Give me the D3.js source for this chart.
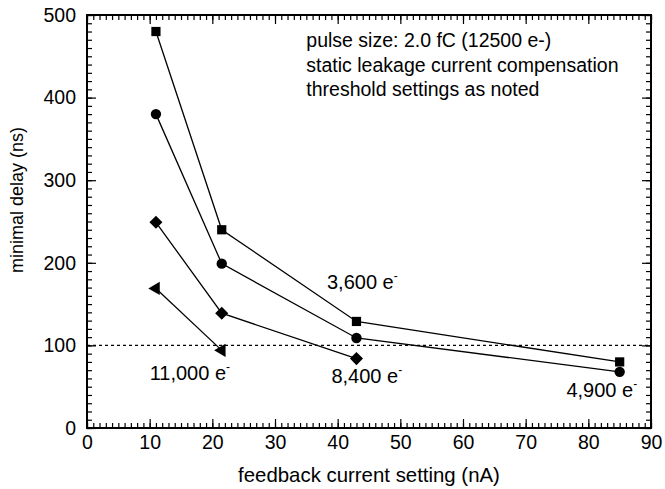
<!DOCTYPE html>
<html>
<head>
<meta charset="utf-8">
<script src="https://cdn.jsdelivr.net/npm/d3@7"></script>
<style>
  body { margin: 0; background: #fff; }
  svg { font-family: "Liberation Sans", Arial, sans-serif; }
</style>
</head>
<body>
<svg id="chart" width="665" height="489"></svg>
<script>
// feedback current (nA) and minimal delay (ns) per threshold setting
const xSquare = [11, 21.5, 43, 85]
const ySquare = [480, 240, 129, 80]
const xCircle = [11, 21.5, 43, 85]
const yCircle = [380, 199, 109, 68]
const xDiamond = [11, 21.5, 43]
const yDiamond = [249, 139, 84]
const xTriangle = [11, 21.5]
const yTriangle = [169, 94]

const xTicks = [0, 10, 20, 30, 40, 50, 60, 70, 80, 90]
const yTicks = [0, 100, 200, 300, 400, 500]
const refLine = 100

const notes = ['pulse size: 2.0 fC (12500 e-)', 'static leakage current compensation', 'threshold settings as noted']
const labelText = ['3,600 e', '11,000 e', '8,400 e', '4,900 e']
const labelX = [38.3, 10, 39, 76.5]
const labelY = [168, 58, 54.5, 37.5]

const W = 665, H = 489
const m = {left: 87, right: 14, top: 15, bottom: 61}
const iw = W - m.left - m.right
const ih = H - m.top - m.bottom

const svg = d3.select('#chart')
const g = svg.append('g').attr('transform', `translate(${m.left},${m.top})`)

const x = d3.scaleLinear().domain([0, 90]).range([0, iw])
const y = d3.scaleLinear().domain([0, 500]).range([ih, 0])

// minor ticks (inward), all four sides
const xMinor = d3.range(0, 91, 1)
const yMinor = d3.range(0, 501, 10)
function minorAxis(axis, vals, tr) {
  g.append('g').attr('transform', tr)
    .call(axis.tickValues(vals).tickSize(-5).tickFormat(''))
    .call(s => s.select('.domain').remove())
    .selectAll('line').attr('stroke', '#000').attr('stroke-width', 1)
}
minorAxis(d3.axisBottom(x), xMinor, `translate(0,${ih})`)
minorAxis(d3.axisTop(x), xMinor, 'translate(0,0)')
minorAxis(d3.axisLeft(y), yMinor, 'translate(0,0)')
minorAxis(d3.axisRight(y), yMinor, `translate(${iw},0)`)

// major ticks
g.append('g').attr('transform', `translate(0,${ih})`)
  .call(d3.axisBottom(x).tickValues(xTicks).tickSize(-9).tickPadding(7))
g.append('g')
  .call(d3.axisLeft(y).tickValues(yTicks).tickSize(-9).tickPadding(11))
g.append('g').call(d3.axisTop(x).tickValues(xTicks).tickSize(-9).tickFormat(''))
g.append('g').attr('transform', `translate(${iw},0)`)
  .call(d3.axisRight(y).tickValues(yTicks).tickSize(-9).tickFormat(''))

g.selectAll('.domain').remove()
g.selectAll('.tick line').attr('stroke', '#000').attr('stroke-width', 1.2)
g.selectAll('.tick text').attr('font-size', 19.5).attr('fill', '#000')
  .attr('font-family', '"Liberation Sans", Arial, sans-serif')

g.append('rect').attr('width', iw).attr('height', ih)
  .attr('fill', 'none').attr('stroke', '#000').attr('stroke-width', 2)

// dotted reference line
g.append('line')
  .attr('x1', 0).attr('x2', iw)
  .attr('y1', y(refLine)).attr('y2', y(refLine))
  .attr('stroke', '#000').attr('stroke-width', 1.3).attr('stroke-dasharray', '3,3')

const line = d3.line().x(d => x(d[0])).y(d => y(d[1]))
const series = [
  {xs: xSquare, ys: ySquare, sym: d3.symbolSquare, size: 85, rot: 0},
  {xs: xCircle, ys: yCircle, sym: d3.symbolCircle, size: 85, rot: 0},
  {xs: xDiamond, ys: yDiamond, sym: d3.symbolSquare, size: 85, rot: 45},
  {xs: xTriangle, ys: yTriangle, sym: d3.symbolTriangle, size: 75, rot: -90}
]
series.forEach(s => {
  const pts = s.xs.map((v, i) => [v, s.ys[i]])
  g.append('path').datum(pts).attr('d', line)
    .attr('fill', 'none').attr('stroke', '#000').attr('stroke-width', 1.3)
  g.selectAll(null).data(pts).join('path')
    .attr('d', d3.symbol().type(s.sym).size(s.size))
    .attr('transform', d => `translate(${x(d[0])},${y(d[1])}) rotate(${s.rot})`)
    .attr('fill', '#000')
})

// notes
g.append('g').selectAll('text').data(notes).join('text')
  .attr('x', x(35)).attr('y', (d, i) => 32 + i * 24.7)
  .attr('font-size', 19.5).attr('fill', '#000').text(d => d)

// threshold labels with superscript minus
labelText.forEach((txt, i) => {
  const t = g.append('text').attr('x', x(labelX[i])).attr('y', y(labelY[i]))
    .attr('font-size', 20).attr('fill', '#000')
  t.append('tspan').text(txt)
  t.append('tspan').attr('dy', -9).attr('font-size', 12).text('-')
})

// axis titles
svg.append('text').attr('x', m.left + iw / 2).attr('y', 482)
  .attr('text-anchor', 'middle').attr('font-size', 20.4).text('feedback current setting (nA)')
svg.append('text').attr('transform', 'translate(23,200) rotate(-90)')
  .attr('text-anchor', 'middle').attr('font-size', 18).text('minimal delay (ns)')
</script>
</body>
</html>
